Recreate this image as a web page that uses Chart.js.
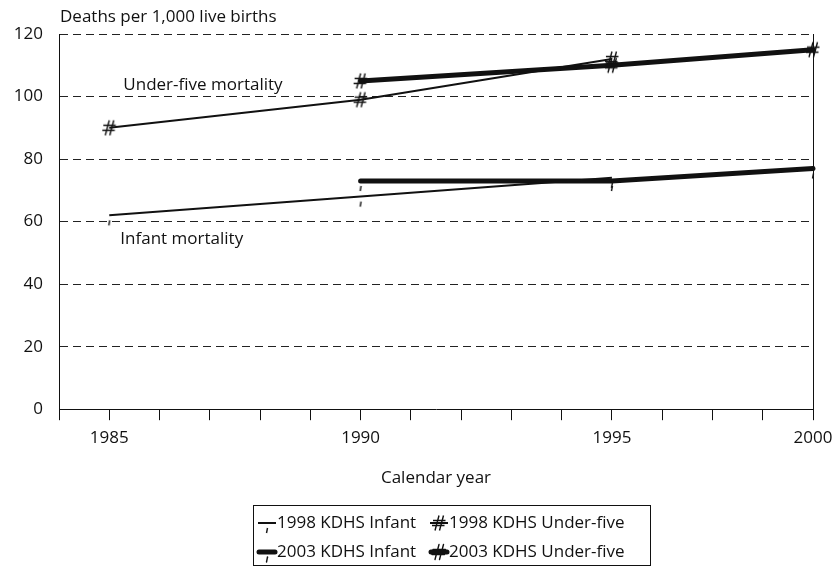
<!DOCTYPE html>
<html>
<head>
<meta charset="utf-8">
<script src="https://cdn.jsdelivr.net/npm/chart.js@4/dist/chart.umd.min.js"></script>
<style>
  html, body { margin: 0; padding: 0; background: #fff; }
  #wrap { width: 833px; height: 566px; }
</style>
</head>
<body>
<div id="wrap"><canvas id="mortChart" width="833" height="566"></canvas></div>
<script>
// x positions: one slot per tick mark, labels only at the survey years
const categories = ['', '1985', '', '', '', '', '1990', '', '', '', '', '1995', '', '', '', '2000'];

const infant1998 = [null, 62, null, null, null, null, 68, null, null, null, null, 74, null, null, null, null];
const underFive1998 = [null, 90, null, null, null, null, 99, null, null, null, null, 112, null, null, null, null];
const infant2003 = [null, null, null, null, null, null, 73, null, null, null, null, 73, null, null, null, 77];
const underFive2003 = [null, null, null, null, null, null, 105, null, null, null, null, 110, null, null, null, 115];

const seriesNames = ['1998 KDHS Infant', '1998 KDHS Under-five', '2003 KDHS Infant', '2003 KDHS Under-five'];
const yTicks = [0, 20, 40, 60, 80, 100, 120];

const FONT = '"Open Sans", Lato, sans-serif';
const FSIZE = 17;
const INK = '#111';

// '#' shaped marker
function drawHash(c, cx, cy) {
    c.strokeStyle = INK;
    c.lineWidth = 1.4;
    c.beginPath();
    c.moveTo(cx, cy - 7.5); c.lineTo(cx - 4, cy + 7.5);
    c.moveTo(cx + 4.5, cy - 7.5); c.lineTo(cx + 0.5, cy + 7.5);
    c.moveTo(cx - 6, cy - 2.5); c.lineTo(cx + 6.5, cy - 2.5);
    c.moveTo(cx - 7, cy + 2.5); c.lineTo(cx + 5.5, cy + 2.5);
    c.stroke();
}

// small tick sitting under the point
function drawTick(c, cx, cy) {
    c.strokeStyle = INK;
    c.lineWidth = 1.4;
    c.beginPath();
    c.moveTo(cx + 0.5, cy + 5);
    c.lineTo(cx - 0.5, cy + 10);
    c.stroke();
}

function makeMarker(kind) {
    const cv = document.createElement('canvas');
    cv.width = 20; cv.height = 24;
    const c = cv.getContext('2d');
    if (kind === 'hash') drawHash(c, 10, 12); else drawTick(c, 10, 12);
    return cv;
}

function makeLegendSymbol(kind, lw) {
    const cv = document.createElement('canvas');
    cv.width = 22; cv.height = 24;
    const c = cv.getContext('2d');
    c.strokeStyle = INK;
    c.lineWidth = lw;
    c.lineCap = lw > 3 ? 'round' : 'butt';
    c.beginPath();
    c.moveTo(lw > 3 ? 3 : 2, 12); c.lineTo(lw > 3 ? 19 : 20, 12);
    c.stroke();
    if (kind === 'hash') drawHash(c, 11, 12); else drawTick(c, 11, 12);
    return cv;
}

const hashMark = makeMarker('hash');
const tickMark = makeMarker('tick');

const legendSymbols = [
    makeLegendSymbol('tick', 2),
    makeLegendSymbol('hash', 2),
    makeLegendSymbol('tick', 5),
    makeLegendSymbol('hash', 5)
];

const extras = {
    id: 'extras',
    afterDraw(chart) {
        const c = chart.ctx;
        const a = chart.chartArea;
        const xs = chart.scales.x;
        const ys = chart.scales.y;
        c.save();

        // right frame edge
        c.strokeStyle = INK;
        c.lineWidth = 1;
        c.beginPath();
        c.moveTo(a.right + 0.5, a.top);
        c.lineTo(a.right + 0.5, a.bottom);
        c.stroke();

        c.fillStyle = INK;
        c.font = FSIZE + 'px ' + FONT;
        c.textBaseline = 'middle';
        c.textAlign = 'left';
        c.fillText('Deaths per 1,000 live births', a.left + 1, 17);
        c.fillText('Under-five mortality', xs.getPixelForValue(1.28), ys.getPixelForValue(103.5));
        c.fillText('Infant mortality', xs.getPixelForValue(1.22), ys.getPixelForValue(54.5));

        // legend box
        const bx = 253, by = 505, bw = 397, bh = 60;
        c.lineWidth = 1;
        c.strokeRect(bx + 0.5, by + 0.5, bw, bh);
        const cols = [256, 428];
        const rows = [523, 552];
        seriesNames.forEach(function(name, i) {
            const col = cols[i % 2];
            const row = rows[Math.floor(i / 2)];
            c.drawImage(legendSymbols[i], col, row - 12);
            c.fillText(name, col + 21, row);
        });
        c.restore();
    }
};

const ctx = document.getElementById('mortChart').getContext('2d');
const mortChart = new Chart(ctx, {
    type: 'line',
    data: {
        labels: categories,
        datasets: [{
            label: seriesNames[0],
            data: infant1998,
            borderColor: INK,
            borderWidth: 2,
            pointStyle: tickMark,
            spanGaps: true
        }, {
            label: seriesNames[1],
            data: underFive1998,
            borderColor: INK,
            borderWidth: 2,
            pointStyle: hashMark,
            spanGaps: true
        }, {
            label: seriesNames[2],
            data: infant2003,
            borderColor: INK,
            borderWidth: 5,
            borderCapStyle: 'round',
            pointStyle: tickMark,
            spanGaps: true
        }, {
            label: seriesNames[3],
            data: underFive2003,
            borderColor: INK,
            borderWidth: 5,
            borderCapStyle: 'round',
            pointStyle: hashMark,
            spanGaps: true
        }]
    },
    options: {
        responsive: false,
        animation: false,
        layout: { padding: { left: 13, top: 34, right: 20, bottom: 78 } },
        plugins: {
            legend: { display: false },
            tooltip: { enabled: false }
        },
        scales: {
            x: {
                offset: false,
                afterFit(scale) {
                    scale.paddingLeft = 0;
                    scale.paddingRight = 0;
                },
                grid: {
                    offset: false,
                    drawOnChartArea: false,
                    drawTicks: true,
                    tickLength: 11,
                    color: INK
                },
                border: { color: INK, width: 1 },
                ticks: {
                    autoSkip: false,
                    maxRotation: 0,
                    padding: 8,
                    color: INK,
                    font: { family: FONT, size: FSIZE }
                },
                title: {
                    display: true,
                    text: 'Calendar year',
                    color: INK,
                    padding: { top: 11, bottom: 0 },
                    font: { family: FONT, size: FSIZE }
                }
            },
            y: {
                min: 0,
                max: 120,
                afterBuildTicks(scale) {
                    scale.ticks = yTicks.map(function(v) { return { value: v }; });
                },
                afterFit(scale) {
                    scale.width = 46;
                    scale.paddingTop = 0;
                    scale.paddingBottom = 0;
                },
                grid: {
                    drawTicks: false,
                    lineWidth: 1,
                    color: function(c) { return c.tick.value === 0 ? 'rgba(0,0,0,0)' : '#222'; }
                },
                border: { color: INK, width: 1, dash: [8, 5] },
                ticks: {
                    padding: 16,
                    color: INK,
                    font: { family: FONT, size: FSIZE }
                }
            }
        }
    },
    plugins: [extras]
});
</script>
</body>
</html>
